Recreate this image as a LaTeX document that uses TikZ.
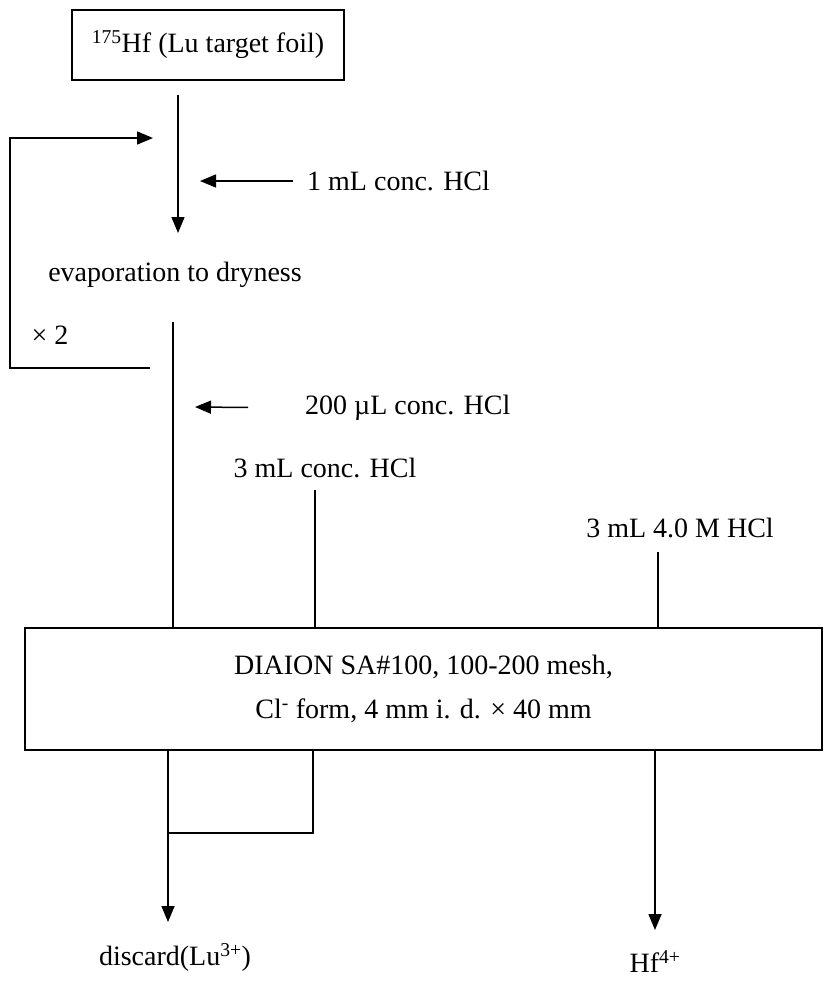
\documentclass[tikz,border=0pt]{standalone}
\usepackage{fontspec}
\setmainfont{Liberation Serif}
\usepackage{tikz}
\usetikzlibrary{arrows.meta,positioning,calc}

\begin{document}
\begin{tikzpicture}[x=1pt,y=-1pt,
  flow/.style={line width=1.5pt,-{Triangle[length=16pt,width=13pt]}},
  pipe/.style={line width=1.5pt},
  lbl/.style={font=\fontsize{28}{44}\selectfont,inner sep=0pt}]
  \useasboundingbox (0,0) rectangle (824,991);

  % Target
  \node[draw,line width=1.5pt,lbl,minimum width=272pt,minimum height=70pt] (foil) at (208,45) {\textsuperscript{175}Hf (Lu target foil)};

  % Dissolution in conc. HCl
  \coordinate (a1) at (178,95);
  \coordinate (a2) at (178,233);
  \draw[flow] (a1) -- (a2);
  \node[lbl,anchor=west] (hcl1) at (307,181) {1 mL conc. HCl};
  \coordinate (in1) at (200,181);
  \draw[flow,shorten <=14pt] (hcl1.west) -- (in1);
  \node[lbl] (evap) at (175,275) {evaporation to dryness};

  % Repeat loop
  \coordinate (r1) at (150,368);
  \coordinate (r2) at (153,138);
  \draw[flow] (r1) -- ++(-140,0) |- (r2);
  \node[lbl] (rep) at (50,335) {× 2};

  % Column
  \node[draw,pipe,lbl,align=center,minimum width=797pt,minimum height=122pt] (col) at (423.5,689)
    {DIAION SA\#100, 100-200 mesh,\\Cl\textsuperscript{-} form, 4 mm i. d. × 40 mm};

  % Loading
  \coordinate (c1) at (173,322);
  \draw[pipe] (c1) -- (c1 |- col.north);
  \node[lbl,anchor=west] (hcl2) at (305,408) {200 µL conc. HCl};
  \coordinate (in2) at (195,407);
  \draw[flow,shorten <=57pt] (hcl2.west) -- (in2);

  % Washing
  \node[lbl] (wash) at (325,468) {3 mL conc. HCl};
  \coordinate (w1) at (315,490);
  \draw[pipe] (w1) -- (w1 |- col.north);

  % Elution
  \node[lbl] (elu) at (680,528) {3 mL 4.0 M HCl};
  \coordinate (e1) at (658,552);
  \draw[pipe] (e1) -- (e1 |- col.north);

  % Effluents
  \node[lbl] (waste) at (175,957) {discard(Lu\textsuperscript{3+})};
  \node[lbl] (prod) at (655,962) {Hf\textsuperscript{4+}};
  \coordinate (d1) at (168,922);
  \draw[flow] (d1 |- col.south) -- (d1);
  \coordinate (w2) at (313,833);
  \draw[pipe] (w2 |- col.south) -- (w2) -- (w2 -| d1);
  \coordinate (h1) at (655,930);
  \draw[flow] (h1 |- col.south) -- (h1);
\end{tikzpicture}
\end{document}
